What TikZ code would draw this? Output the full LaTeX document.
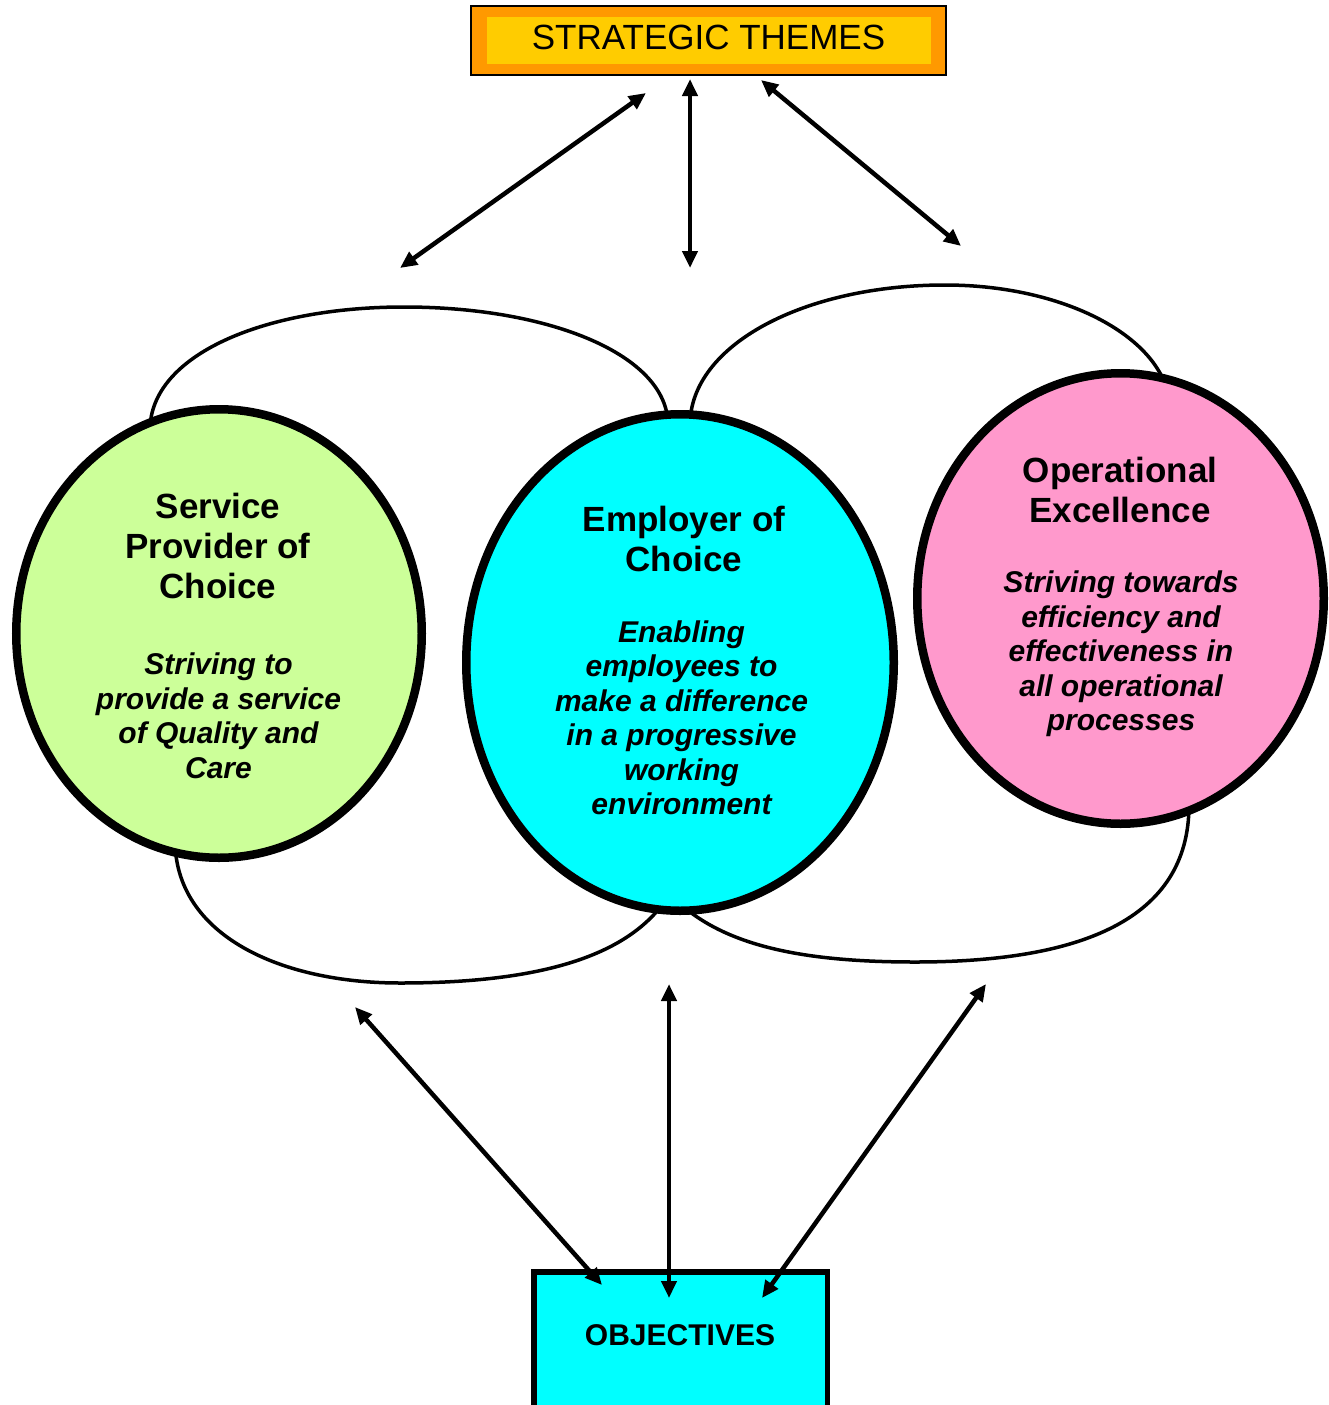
\documentclass[tikz,border=0pt]{standalone}
\usepackage{fontspec}
\setmainfont{Liberation Sans}
\usetikzlibrary{shapes.geometric,arrows.meta}
\definecolor{themeorange}{HTML}{FF9900}
\definecolor{themeyellow}{HTML}{FFCC00}
\definecolor{spgreen}{HTML}{CCFF99}
\definecolor{eocyan}{HTML}{00FFFF}
\definecolor{oepink}{HTML}{FF99CC}
\begin{document}
\begin{tikzpicture}[x=1pt,y=-1pt,
  loopline/.style={line width=3.5pt},
  bigoval/.style={ellipse, draw=black, line width=8.5pt, inner sep=0pt, outer sep=0pt},
  twoway/.style={line width=4.5pt, {Triangle[length=17pt,width=15pt]}-{Triangle[length=17pt,width=15pt]}},
  headtext/.style={align=center, inner sep=0pt, font=\fontsize{35}{40}\selectfont\bfseries},
  bodytext/.style={align=center, inner sep=0pt, font=\fontsize{30}{34.5}\selectfont\bfseries\itshape},
]
\useasboundingbox (0,0) rectangle (1328,1405);
\fill[white] (0,0) rectangle (1328,1405);
\clip (0,0) rectangle (1328,1405);

% connecting loops (drawn first, ellipses cover their ends)
\draw[loopline] (150,430) .. controls (150,355) and (264,307) .. (404,307)
                .. controls (550,307) and (668,355) .. (668,425);
\draw[loopline] (690,425) .. controls (690,345) and (804,285) .. (945,285)
                .. controls (1069,285) and (1170,341) .. (1170,410);
\draw[loopline] (175,840) .. controls (175,935) and (280,983) .. (400,983)
                .. controls (530,983) and (620,960) .. (662,905);
\draw[loopline] (678,902) .. controls (725,945) and (800,962) .. (915,962)
                .. controls (1080,962) and (1189,920) .. (1189,805);

% three themes
\node (spc) [bigoval, fill=spgreen, minimum width=405.5pt, minimum height=448.5pt] at (219,633.5) {};
\node (eoc) [bigoval, fill=eocyan, minimum width=427.5pt, minimum height=496.5pt] at (680,662.5) {};
\node (opx) [bigoval, fill=oepink, minimum width=406.5pt, minimum height=450.5pt] at (1120.5,598.5) {};

\node (spchead) [headtext] at (218,546) {Service\\Provider of\\Choice};
\node (spcbody) [bodytext] at (218.5,716) {Striving to\\provide a service\\of Quality and\\Care};
\node (eochead) [headtext] at (684,539) {Employer of\\Choice};
\node (eocbody) [bodytext] at (681.5,718) {Enabling\\employees to\\make a difference\\in a progressive\\working\\environment};
\node (opxhead) [headtext] at (1120,490) {Operational\\Excellence};
\node (opxbody) [bodytext] at (1121,654) {Striving towards\\efficiency and\\effectiveness in\\all operational\\processes};

% strategic themes box
\node (themes) [draw=black, line width=1.2pt, fill=themeorange, inner sep=0pt,
  minimum width=475pt, minimum height=69pt] at (708.5,40.5) {};
\node (themesin) [fill=themeyellow, inner sep=0pt, minimum width=444pt, minimum height=47pt] at (709,40.5) {};
\node (themestext) [inner sep=0pt, font=\fontsize{35}{40}\selectfont] at (708.5,37.5) {STRATEGIC THEMES};

% objectives box
\node (objectives) [draw=black, line width=5.5pt, fill=eocyan, inner sep=0pt,
  minimum width=293.5pt, minimum height=300pt] at (680.75,1422) {};
\node (objtext) [inner sep=0pt, font=\fontsize{30}{34}\selectfont\bfseries] at (680,1335) {OBJECTIVES};

% arrow end points
\coordinate (ta1) at (400,268);  \coordinate (tb1) at (646,93);
\coordinate (ta2) at (690,268);  \coordinate (tb2) at (690,79);
\coordinate (ta3) at (961,246);  \coordinate (tb3) at (761,80);
\coordinate (ba1) at (355,1007); \coordinate (bb1) at (602,1285);
\coordinate (ba2) at (669,984);  \coordinate (bb2) at (669,1298);
\coordinate (ba3) at (986,984);  \coordinate (bb3) at (762,1298);

\draw[twoway] (ta1) -- (tb1);
\draw[twoway] (ta2) -- (tb2);
\draw[twoway] (ta3) -- (tb3);
\draw[twoway] (ba1) -- (bb1);
\draw[twoway] (ba2) -- (bb2);
\draw[twoway] (ba3) -- (bb3);
\end{tikzpicture}
\end{document}
